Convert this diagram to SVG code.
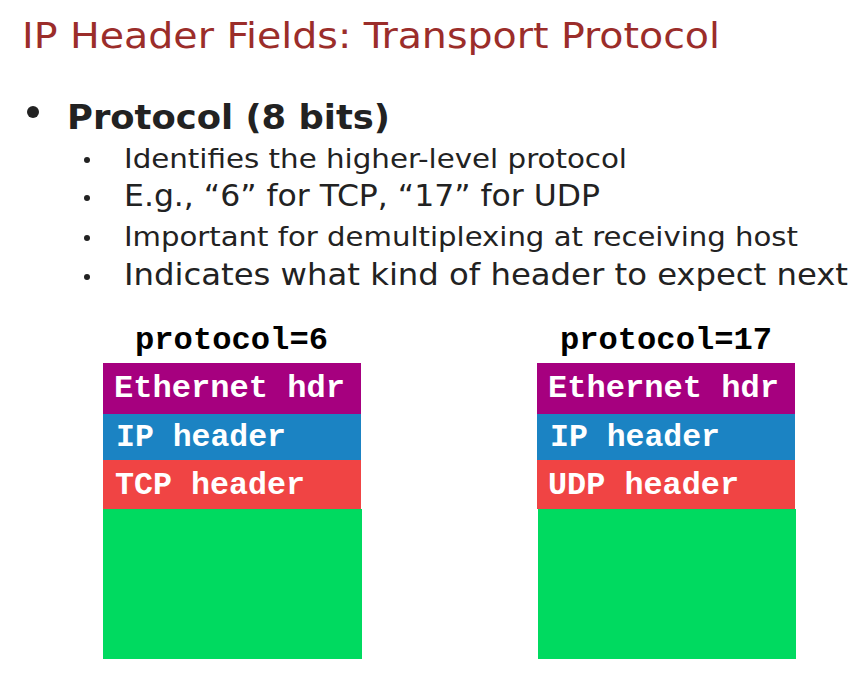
<svg xmlns="http://www.w3.org/2000/svg" width="862" height="675" viewBox="0 0 862 675">
<style>
.t{font-family:"DejaVu Sans Condensed","DejaVu Sans",sans-serif;fill:#222}
.m{font-family:"Liberation Mono","Courier New",monospace;font-weight:bold;font-size:31px}
.w{fill:#fff}
.eth{fill:#A6007F}.ip{fill:#1B83C3}.tr{fill:#F04444}.pl{fill:#00DA60}
</style>
<rect width="862" height="675" fill="#fff"/>
<text class="t" x="22" y="48" font-size="35" style="fill:#9B2D2A" textLength="698" lengthAdjust="spacingAndGlyphs">IP Header Fields: Transport Protocol</text>
<circle cx="33" cy="112" r="6" fill="#222"/>
<text class="t" x="67" y="129" font-size="34" font-weight="bold" textLength="323" lengthAdjust="spacingAndGlyphs">Protocol (8 bits)</text>
<g fill="#222">
<circle cx="87" cy="160" r="3"/>
<circle cx="87" cy="198" r="3"/>
<circle cx="87" cy="238" r="3"/>
<circle cx="87" cy="277" r="3"/>
</g>
<text class="t" x="124" y="168" font-size="27" textLength="503" lengthAdjust="spacingAndGlyphs">Identifies the higher-level protocol</text>
<text class="t" x="124" y="206" font-size="31" textLength="476" lengthAdjust="spacingAndGlyphs">E.g., “6” for TCP, “17” for UDP</text>
<text class="t" x="124" y="246" font-size="27" textLength="674" lengthAdjust="spacingAndGlyphs">Important for demultiplexing at receiving host</text>
<text class="t" x="124" y="285" font-size="31" textLength="724" lengthAdjust="spacingAndGlyphs">Indicates what kind of header to expect next</text>
<g id="left">
<text class="m" x="135" y="349" textLength="193" lengthAdjust="spacingAndGlyphs">protocol=6</text>
<rect class="eth" x="103" y="363" width="258" height="51"/>
<rect class="ip" x="103" y="414" width="258" height="46"/>
<rect class="tr" x="103" y="460" width="258" height="49"/>
<rect class="pl" x="103" y="509" width="259" height="150"/>
<text class="m w" x="114" y="397" textLength="231" lengthAdjust="spacingAndGlyphs">Ethernet hdr</text>
<text class="m w" x="116" y="446" textLength="170" lengthAdjust="spacingAndGlyphs">IP header</text>
<text class="m w" x="115" y="494" textLength="190" lengthAdjust="spacingAndGlyphs">TCP header</text>
</g>
<g id="right">
<text class="m" x="560" y="349" textLength="212" lengthAdjust="spacingAndGlyphs">protocol=17</text>
<rect class="eth" x="537" y="363" width="258" height="51"/>
<rect class="ip" x="537" y="414" width="258" height="46"/>
<rect class="tr" x="537" y="460" width="258" height="49"/>
<rect class="pl" x="538" y="509" width="258" height="150"/>
<text class="m w" x="548" y="397" textLength="231" lengthAdjust="spacingAndGlyphs">Ethernet hdr</text>
<text class="m w" x="550" y="446" textLength="170" lengthAdjust="spacingAndGlyphs">IP header</text>
<text class="m w" x="548" y="494" textLength="191" lengthAdjust="spacingAndGlyphs">UDP header</text>
</g>
</svg>
